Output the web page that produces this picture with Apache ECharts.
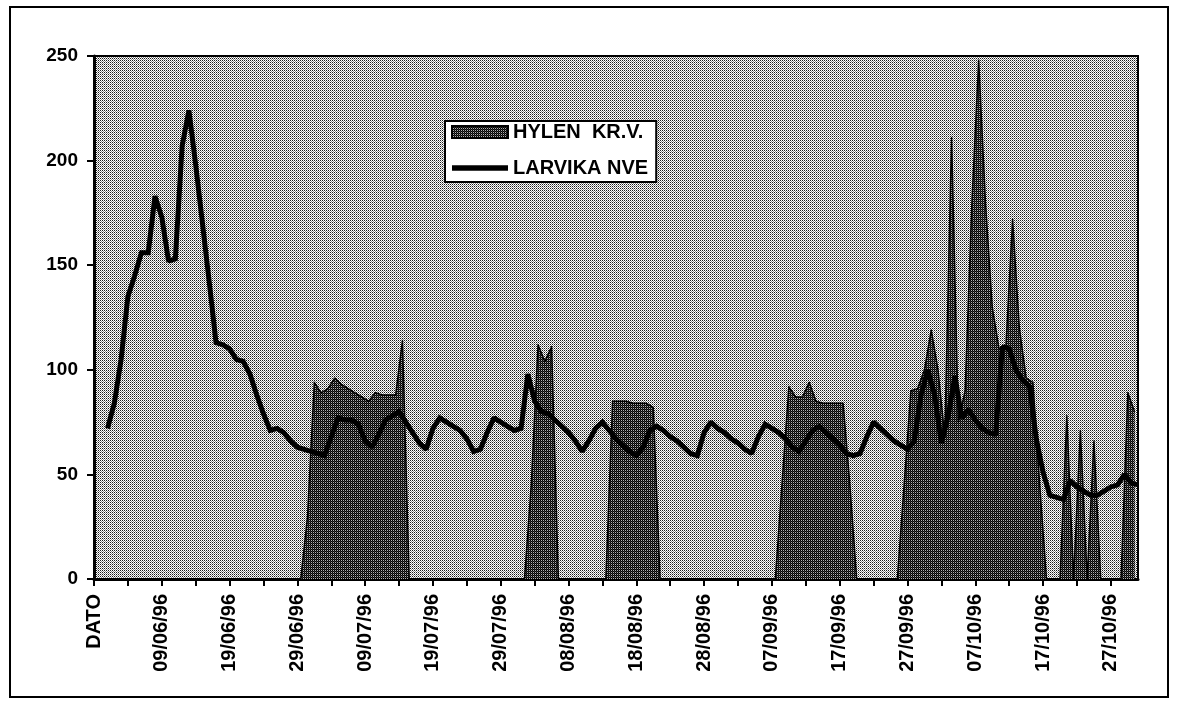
<!DOCTYPE html>
<html>
<head>
<meta charset="utf-8">
<title>HYLEN KR.V. / LARVIKA NVE</title>
<script src="https://cdn.jsdelivr.net/npm/echarts@6/dist/echarts.min.js"></script>
<style>
  html, body { margin: 0; padding: 0; background: #fff; }
  #chart { width: 1178px; height: 704px; }
</style>
</head>
<body>
<div id="chart"></div>
<script>
// first category is the sheet header, then one entry per day from 31/05/96
const headerLabel = 'DATO';
const dayCount = 154;

const yTicks = [0, 50, 100, 150, 200, 250];

// LARVIKA NVE, one value per category (DATO .. 31/10/96)
const larvika = [
  null, null, 72, 84, 105, 135, 145, 156, 156, 183,
  173, 152, 153, 207, 224, 198, 170, 142, 113, 112,
  110, 105, 104, 98, 88, 79, 71, 72, 70, 66,
  63, 62, 61, 60, 59, 68, 77, 76, 76, 74,
  66, 63, 69, 76, 78, 80, 75, 70, 65, 62,
  72, 77, 75, 73, 71, 67, 61, 62, 70, 77,
  75, 73, 71, 72, 98, 85, 80, 79, 76, 73,
  70, 66, 61, 66, 72, 75, 71, 67, 64, 61,
  59, 63, 71, 73, 71, 68, 66, 63, 60, 59,
  70, 75, 72, 70, 67, 65, 62, 60, 68, 74,
  72, 70, 67, 63, 61, 66, 71, 73, 70, 67,
  64, 60, 59, 60, 68, 75, 72, 69, 66, 64,
  62, 66, 88, 100, 88, 65, 78, 97, 77, 81,
  76, 72, 70, 69, 111, 110, 100, 95, 92, 67,
  51, 40, 39, 38, 47, 44, 42, 40, 40, 42,
  44, 45, 50, 46, 45
];

// HYLEN KR.V., one value per day (31/05/96 .. 31/10/96), drawn between the date ticks
const hylen = [
  0, 0, 0, 0, 0, 0, 0, 0, 0, 0,
  0, 0, 0, 0, 0, 0, 0, 0, 0, 0,
  0, 0, 0, 0, 0, 0, 0, 0, 0, 0,
  0, 30, 94, 89, 91, 96, 93, 91, 89, 87,
  85, 89, 88, 88, 88, 114, 0, 0, 0, 0,
  0, 0, 0, 0, 0, 0, 0, 0, 0, 0,
  0, 0, 0, 0, 45, 112, 104, 111, 0, 0,
  0, 0, 0, 0, 0, 0, 85, 85, 85, 84,
  84, 84, 82, 0, 0, 0, 0, 0, 0, 0,
  0, 0, 0, 0, 0, 0, 0, 0, 0, 0,
  0, 46, 92, 87, 87, 94, 85, 84, 84, 84,
  84, 45, 0, 0, 0, 0, 0, 0, 0, 45,
  90, 91, 100, 119, 100, 68, 211, 75, 90, 180,
  248, 180, 130, 110, 110, 172, 120, 96, 94, 45,
  0, 0, 0, 78, 0, 71, 0, 66, 0, 0,
  0, 0, 89, 80
];

function pad(n) {
  return n < 10 ? '0' + n : '' + n;
}

const days = [];
for (let i = 0; i < dayCount; i++) {
  const d = new Date(1996, 4, 31 + i);
  days.push(pad(d.getDate()) + '/' + pad(d.getMonth() + 1) + '/' + String(d.getFullYear()).slice(2));
}
const categories = [headerLabel].concat(days);

// 2x2 dither tiles to mimic the halftone fills
function dither(colors) {
  const c = document.createElement('canvas');
  c.width = 2;
  c.height = 2;
  const ctx = c.getContext('2d');
  colors.forEach((col, i) => {
    ctx.fillStyle = col;
    ctx.fillRect(i % 2, Math.floor(i / 2), 1, 1);
  });
  return { image: c, repeat: 'repeat' };
}
const lightFill = dither(['#1a1a1a', '#ffffff', '#ffffff', '#8a8a8a']);
const darkFill = dither(['#000000', '#b0b0b0', '#303030', '#000000']);

const font = "'Liberation Sans', Arial, Helvetica, sans-serif";

const chart = echarts.init(document.getElementById('chart'), null, { renderer: 'canvas' });

const option = {
  animation: false,
  backgroundColor: '#ffffff',
  graphic: [{
    type: 'rect',
    shape: { x: 10, y: 7, width: 1158, height: 690 },
    style: { fill: null, stroke: '#000', lineWidth: 2 },
    silent: true
  }],
  grid: {
    left: 94,
    right: 40,
    top: 56,
    bottom: 125,
    show: true,
    backgroundColor: lightFill,
    borderColor: '#000',
    borderWidth: 2
  },
  legend: {
    left: 445,
    top: 121,
    orient: 'vertical',
    padding: [1, 8, 4, 6],
    itemGap: 16,
    itemWidth: 56,
    itemHeight: 12,
    backgroundColor: '#fff',
    borderColor: '#000',
    borderWidth: 2,
    textStyle: { fontFamily: font, fontSize: 20, fontWeight: 'bold', color: '#000' },
    data: [
      {
        name: 'HYLEN  KR.V.',
        icon: 'rect',
        itemStyle: { color: darkFill, borderColor: '#000', borderWidth: 2 }
      },
      {
        name: 'LARVIKA NVE',
        icon: 'path://M0,0H60V6H0Z',
        itemStyle: { color: '#000' }
      }
    ]
  },
  xAxis: [
    {
      type: 'category',
      data: categories,
      boundaryGap: false,
      axisLine: { lineStyle: { color: '#000', width: 3 } },
      axisTick: { interval: 4, length: 7, lineStyle: { color: '#000', width: 2 } },
      axisLabel: {
        interval: 9,
        rotate: 90,
        margin: 15,
        fontFamily: font,
        fontSize: 20,
        fontWeight: 'bold',
        color: '#000'
      },
      splitLine: { show: false }
    },
    {
      type: 'category',
      data: days,
      boundaryGap: true,
      show: false
    }
  ],
  yAxis: {
    type: 'value',
    min: yTicks[0],
    max: yTicks[yTicks.length - 1],
    interval: yTicks[1] - yTicks[0],
    axisLine: { show: true, lineStyle: { color: '#000', width: 3 } },
    axisTick: { show: true, length: 7, lineStyle: { color: '#000', width: 2 } },
    axisLabel: {
      margin: 16,
      fontFamily: font,
      fontSize: 19,
      fontWeight: 'bold',
      color: '#000'
    },
    splitLine: { show: false }
  },
  series: [
    {
      name: 'HYLEN  KR.V.',
      type: 'line',
      xAxisIndex: 1,
      data: hylen,
      symbol: 'none',
      lineStyle: { color: '#000', width: 1.5, join: 'round' },
      itemStyle: { color: darkFill },
      areaStyle: { color: darkFill, opacity: 1 },
      z: 2
    },
    {
      name: 'LARVIKA NVE',
      type: 'line',
      xAxisIndex: 0,
      data: larvika,
      symbol: 'none',
      connectNulls: false,
      lineStyle: { color: '#000', width: 5, join: 'miter', miterLimit: 1.5 },
      itemStyle: { color: '#000' },
      z: 3
    }
  ]
};

chart.setOption(option);
</script>
</body>
</html>
